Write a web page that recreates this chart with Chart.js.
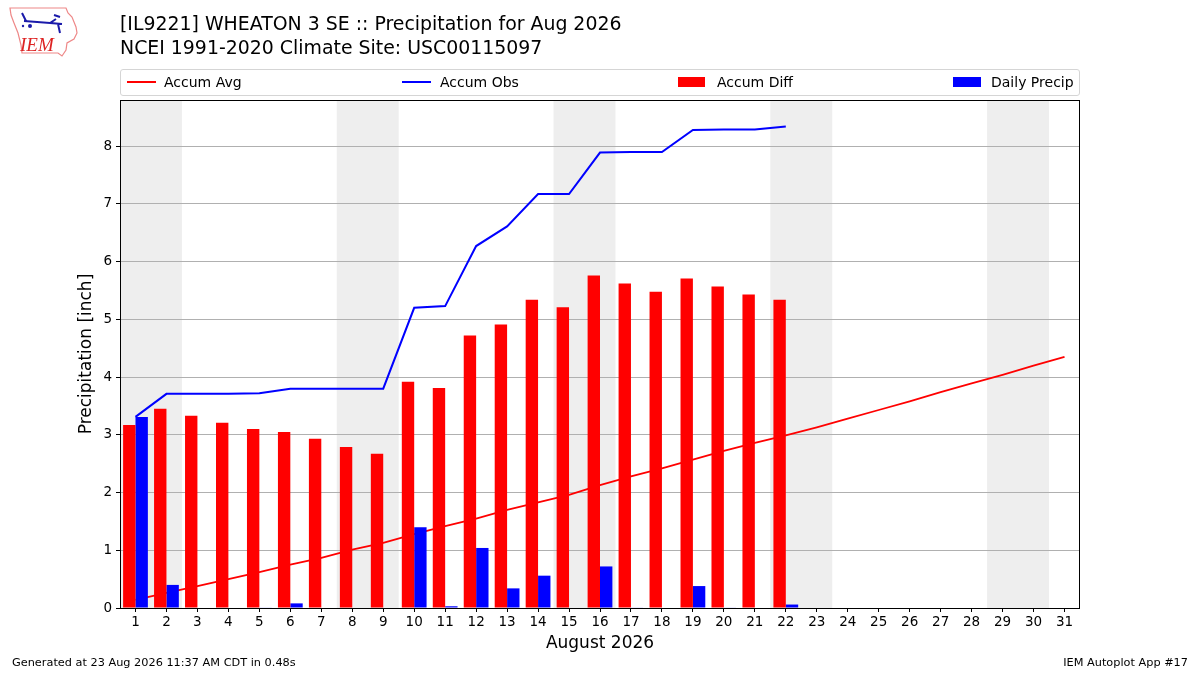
<!DOCTYPE html>
<html>
<head>
<meta charset="utf-8">
<script src="https://cdn.jsdelivr.net/npm/chart.js@4.4.1/dist/chart.umd.min.js"></script>
<style>
  body { margin: 0; background: #fff; font-family: "DejaVu Sans", sans-serif; }
  #wrap { position: relative; width: 1200px; height: 675px; overflow: hidden; }
  #chart { position: absolute; left: 0; top: 0; }
  .title { position: absolute; left: 120px; font-size: 18.9px; color: #000; white-space: nowrap; }
  #legend { position: absolute; left: 120px; top: 69px; width: 958px; height: 25px;
            border: 1px solid #d5d5d5; border-radius: 3px; background: #fff; }
  .lg { position: absolute; top: 0; height: 25px; line-height: 25px; font-size: 14px; color: #000; white-space: nowrap; }
  .lg i { position: absolute; display: block; }
  .foot { position: absolute; top: 656px; font-size: 11.3px; color: #000; white-space: nowrap; }
</style>
</head>
<body>
<div id="wrap">
  <canvas id="chart" width="1200" height="675"></canvas>
  <svg style="position:absolute;left:6px;top:5px" width="76" height="56" viewBox="0 0 76 56">
    <path d="M4 3 L60 3 L62 8 L66 12 L70 22 L71 28 L68 34 L61 38 L60 45 L56 51 L52 48 L16 48 L15 40 L12 28 L8 18 L5 10 Z"
          fill="none" stroke="#e88" stroke-width="1.2"/>
    <path d="M16 8 L20 16 M18 16 L44 18 L50 14 M44 18 L56 19 M52 19 L54 28 M48 10 L54 12" stroke="#1a1aaa" stroke-width="2" fill="none"/>
    <circle cx="24" cy="21" r="2" fill="#1a1aaa"/>
    <circle cx="17" cy="21" r="1.2" fill="#1a1aaa"/>
    <text x="14" y="46" font-family="Liberation Serif" font-style="italic" font-size="19" fill="#d22">IEM</text>
  </svg>
  <div class="title" style="top:12px">[IL9221] WHEATON 3 SE :: Precipitation for Aug 2026</div>
  <div class="title" style="top:36px">NCEI 1991-2020 Climate Site: USC00115097</div>
  <div id="legend">
    <div class="lg" style="left:43px"><i style="left:-37px;top:11px;width:29px;height:2px;background:#ff0000"></i>Accum Avg</div>
    <div class="lg" style="left:319px"><i style="left:-38px;top:11px;width:29px;height:2px;background:#0000ff"></i>Accum Obs</div>
    <div class="lg" style="left:596px"><i style="left:-39px;top:7px;width:27px;height:10px;background:#ff0000"></i>Accum Diff</div>
    <div class="lg" style="left:870px"><i style="left:-38px;top:7px;width:28px;height:10px;background:#0000ff"></i>Daily Precip</div>
  </div>
  <div class="foot" style="left:12px">Generated at 23 Aug 2026 11:37 AM CDT in 0.48s</div>
  <div class="foot" style="right:12px">IEM Autoplot App #17</div>
</div>
<script>
// days of August 2026
const days = [1,2,3,4,5,6,7,8,9,10,11,12,13,14,15,16,17,18,19,20,21,22,23,24,25,26,27,28,29,30,31];
// Saturdays and Sundays (shaded)
const weekendDays = [1,2,8,9,15,16,22,23,29,30];

// accumulated climatology (inch)
const accumAvg = [0.14,0.26,0.38,0.50,0.62,0.75,0.87,1.01,1.13,1.28,1.42,1.55,1.70,1.83,1.96,2.13,
  2.28,2.42,2.57,2.72,2.86,2.99,3.13,3.28,3.43,3.58,3.74,3.89,4.04,4.20,4.35];
// accumulated observed (inch)
const accumObs = [3.31,3.71,3.71,3.71,3.72,3.80,3.80,3.80,3.80,5.20,5.23,6.27,6.61,7.17,7.17,7.89,
  7.90,7.90,8.28,8.29,8.29,8.34];
// obs minus avg
const accumDiff = [3.17,3.45,3.33,3.21,3.10,3.05,2.93,2.79,2.67,3.92,3.81,4.72,4.91,5.34,5.21,5.76,
  5.62,5.48,5.71,5.57,5.43,5.34];
// daily precip
const dailyPrecip = [3.31,0.40,0,0,0.01,0.08,0,0,0,1.40,0.03,1.04,0.34,0.56,0,0.72,0.01,0,0.38,0.01,0,0.06];

const yTicks = [0,1,2,3,4,5,6,7,8];

const FONT = "DejaVu Sans";

const weekendPlugin = {
  id: "weekends",
  beforeDraw(chart) {
    const { ctx, chartArea, scales } = chart;
    const x = scales.x;
    const half = (x.getPixelForValue(1) - x.getPixelForValue(0)) / 2;
    // merge consecutive days into one span so there is no seam
    const spans = [];
    for (const d of weekendDays) {
      const last = spans[spans.length - 1];
      if (last && last[1] === d - 1) last[1] = d;
      else spans.push([d, d]);
    }
    ctx.save();
    ctx.fillStyle = "#eeeeee";
    for (const [a, b] of spans) {
      const x0 = x.getPixelForValue(days.indexOf(a)) - half;
      const x1 = x.getPixelForValue(days.indexOf(b)) + half;
      ctx.fillRect(x0, chartArea.top, x1 - x0, chartArea.bottom - chartArea.top);
    }
    ctx.restore();
  },
  afterDatasetsDraw(chart) {
    const { ctx, chartArea } = chart;
    ctx.save();
    ctx.strokeStyle = "#000";
    ctx.lineWidth = 1;
    ctx.strokeRect(chartArea.left + 0.5, chartArea.top + 0.5,
      chartArea.right - chartArea.left - 1, chartArea.bottom - chartArea.top);
    ctx.restore();
  }
};

// bars get the lower order so they are drawn on top of the lines
new Chart(document.getElementById("chart"), {
  type: "bar",
  data: {
    labels: days,
    datasets: [
      { type: "line", label: "Accum Avg", data: accumAvg, borderColor: "#ff0000", borderWidth: 1.8,
        pointRadius: 0, tension: 0, order: 11 },
      { type: "line", label: "Accum Obs", data: accumObs, borderColor: "#0000ff", borderWidth: 2,
        pointRadius: 0, tension: 0, order: 10 },
      { label: "Accum Diff", data: accumDiff, backgroundColor: "#ff0000", order: 0,
        barPercentage: 1.0, categoryPercentage: 0.8 },
      { label: "Daily Precip", data: dailyPrecip, backgroundColor: "#0000ff", order: 1,
        barPercentage: 1.0, categoryPercentage: 0.8 }
    ]
  },
  options: {
    responsive: false,
    animation: false,
    devicePixelRatio: 1,
    layout: { padding: { top: 100, right: 120, left: 0, bottom: 0 } },
    plugins: { legend: { display: false }, tooltip: { enabled: false } },
    scales: {
      x: {
        grid: { display: true, offset: false, drawOnChartArea: false, tickColor: "#000", tickLength: 4 },
        border: { display: false },
        ticks: { color: "#000", font: { family: FONT, size: 13.5 }, padding: 2, maxRotation: 0, autoSkip: false },
        title: { display: true, text: "August 2026", color: "#000", font: { family: FONT, size: 17 },
                 padding: { top: 0, bottom: 21 } },
        afterFit(scale) { scale.height = 67; }
      },
      y: {
        min: 0,
        max: 8.8,
        afterBuildTicks(scale) { scale.ticks = yTicks.map(v => ({ value: v })); },
        grid: { color: "#b0b0b0", lineWidth: 1, tickColor: "#000", tickLength: 4 },
        border: { display: false },
        ticks: { color: "#000", font: { family: FONT, size: 13.5 }, padding: 4 },
        title: { display: true, text: "Precipitation [inch]", color: "#000", font: { family: FONT, size: 17 },
                 padding: { top: 76, bottom: 0 } },
        afterFit(scale) { scale.width = 120; }
      }
    }
  },
  plugins: [weekendPlugin]
});
</script>
</body>
</html>
